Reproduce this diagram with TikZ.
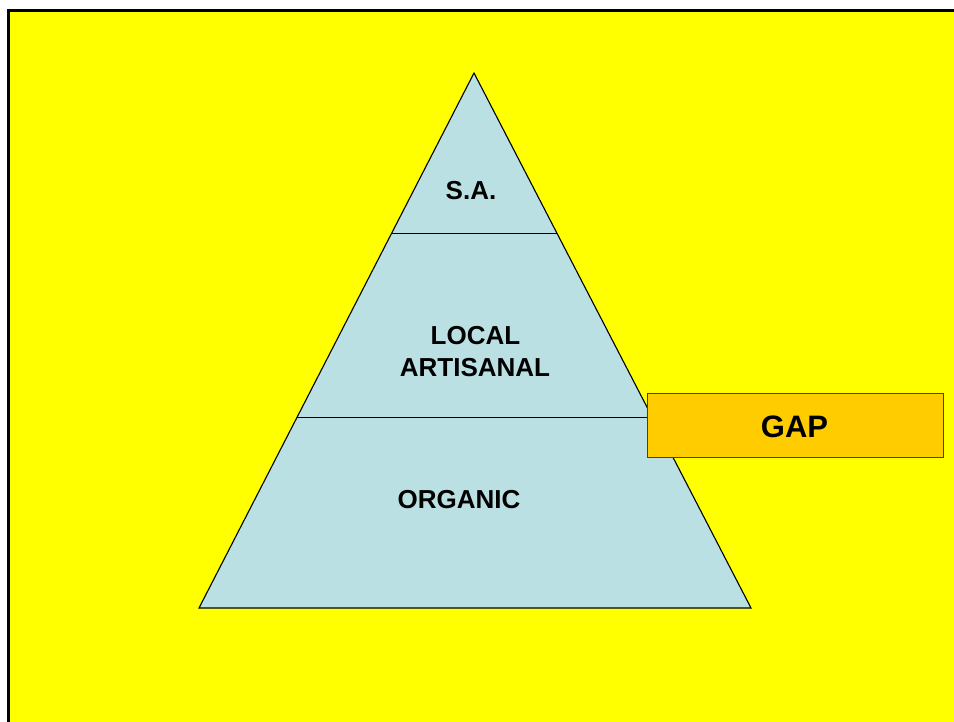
\documentclass[tikz,border=0pt]{standalone}
\usepackage{fontspec}
\setmainfont{Liberation Sans}
\begin{document}
\begin{tikzpicture}[x=1pt,y=-1pt,
  lbl/.style={font=\bfseries\fontsize{26}{31}\selectfont, anchor=base, inner sep=0pt},
  outline/.style={draw=black, line width=1.1pt}]
\definecolor{bgyellow}{RGB}{255,255,0}
\definecolor{pyrblue}{RGB}{187,224,227}
\definecolor{gapgold}{RGB}{255,204,0}
\useasboundingbox (0,0) rectangle (954,721);
\fill[white] (0,0) rectangle (954,721);
\fill[bgyellow] (8.5,10.5) rectangle (960,730);
\draw[black, line width=3pt] (8.5,730) -- (8.5,10.5) -- (960,10.5);
% pyramid
\coordinate (apex) at (474,73);
\coordinate (bl) at (199,608);
\coordinate (br) at (751,608);
\filldraw[fill=pyrblue, outline, line join=miter] (apex) -- (br) -- (bl) -- cycle;
\coordinate (l1) at (391.8,233);
\coordinate (r1) at (556.8,233);
\coordinate (l2) at (297.2,417);
\coordinate (r2) at (652,417);
\draw[black, line width=0.8pt] (l1) -- (r1);
\draw[black, line width=0.8pt] (l2) -- (r2);
\node[lbl] (sa) at (471,199) {S.A.};
\node[lbl] (local) at (475.5,344) {LOCAL};
\node[lbl] (artisanal) at (475,376) {ARTISANAL};
\node[lbl] (organic) at (459,508) {ORGANIC};
% GAP box
\filldraw[fill=gapgold, draw=black!75, line width=1pt] (647,393) rectangle (943,457);
\node[lbl, font=\bfseries\fontsize{31}{37}\selectfont] (gap) at (794.5,437) {GAP};
\end{tikzpicture}
\end{document}
